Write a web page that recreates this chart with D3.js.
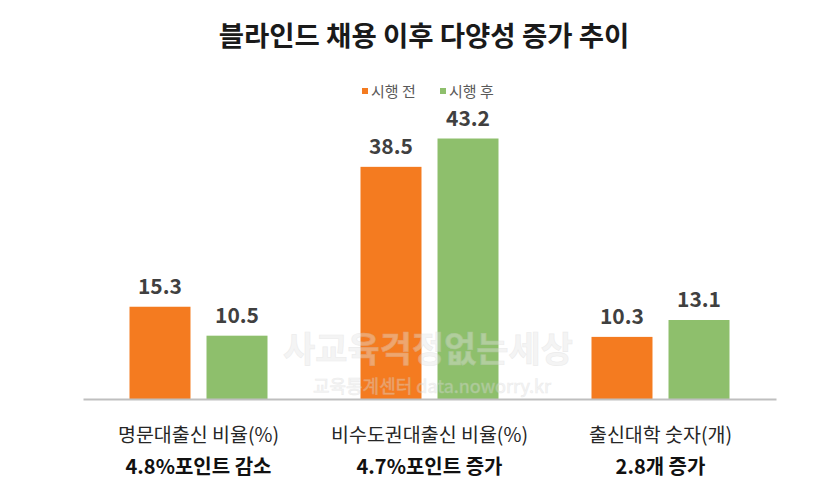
<!DOCTYPE html>
<html>
<head>
<meta charset="utf-8">
<script src="https://cdn.jsdelivr.net/npm/d3@7"></script>
<style>
  body { margin: 0; background: #fff; }
  svg { font-family: "Malgun Gothic", "Noto Sans CJK KR", sans-serif; }
</style>
</head>
<body>
<div id="chart"></div>
<script>
// chart data
const categories = ['명문대출신 비율(%)', '비수도권대출신 비율(%)', '출신대학 숫자(개)'];
const changeNotes = ['4.8%포인트 감소', '4.7%포인트 증가', '2.8개 증가'];
const seriesNames = ['시행 전', '시행 후'];
const beforeValues = [15.3, 38.5, 10.3];
const afterValues = [10.5, 43.2, 13.1];

const colors = { '시행 전': '#F47B20', '시행 후': '#8EBF6C' };

const width = 830, height = 498;
const baseY = 399;

const svg = d3.select('#chart').append('svg')
    .attr('width', width)
    .attr('height', height);

const rows = categories.map((c, i) => ({
    category: c,
    note: changeNotes[i],
    values: [
        { key: seriesNames[0], value: beforeValues[i] },
        { key: seriesNames[1], value: afterValues[i] }
    ]
}));

const x0 = d3.scaleBand()
    .domain(categories)
    .range([83, 776]);

const x1 = d3.scaleBand()
    .domain(seriesNames)
    .range([46.5, 184.5])
    .paddingInner(0.208);

const y = d3.scaleLinear()
    .domain([0, 50])
    .range([baseY, baseY - 301.5]);

// title
svg.append('text')
    .attr('x', 424)
    .attr('y', 46)
    .attr('text-anchor', 'middle')
    .attr('font-size', '27.5px')
    .attr('font-weight', 'bold')
    .attr('fill', '#1a1a1a')
    .text('블라인드 채용 이후 다양성 증가 추이');

// legend
const legendPos = [362, 440];
const legend = svg.append('g');
seriesNames.forEach((name, i) => {
    legend.append('rect')
        .attr('x', legendPos[i])
        .attr('y', 88)
        .attr('width', 6)
        .attr('height', 6)
        .attr('fill', colors[name]);
    legend.append('text')
        .attr('x', legendPos[i] + 9)
        .attr('y', 97)
        .attr('font-size', '15px')
        .attr('fill', '#595959')
        .text(name);
});

// bars
const groups = svg.selectAll('g.group')
    .data(rows)
    .join('g')
    .attr('class', 'group')
    .attr('transform', d => `translate(${x0(d.category)},0)`);

groups.selectAll('rect')
    .data(d => d.values)
    .join('rect')
    .attr('x', d => x1(d.key))
    .attr('y', d => y(d.value))
    .attr('width', x1.bandwidth())
    .attr('height', d => baseY - y(d.value))
    .attr('fill', d => colors[d.key]);

groups.selectAll('text.value')
    .data(d => d.values)
    .join('text')
    .attr('class', 'value')
    .attr('x', d => x1(d.key) + x1.bandwidth() / 2)
    .attr('y', d => y(d.value) - 13)
    .attr('text-anchor', 'middle')
    .attr('font-size', '21px')
    .attr('font-weight', 'bold')
    .attr('fill', '#404040')
    .text(d => d.value.toFixed(1));

// watermark
const wm = svg.append('g')
    .attr('opacity', 0.4)
    .attr('text-anchor', 'middle')
    .attr('fill', '#e6e6e6')
    .attr('stroke', '#cfcfcf')
    .attr('stroke-width', 0.6);
wm.append('text')
    .attr('x', 428)
    .attr('y', 362)
    .attr('font-size', '35px')
    .attr('font-weight', 'bold')
    .text('사교육걱정없는세상');
wm.append('text')
    .attr('x', 432)
    .attr('y', 393)
    .attr('font-size', '18px')
    .text('교육통계센터 data.noworry.kr');

// axis
const axis = svg.append('g')
    .attr('transform', `translate(0,${baseY})`)
    .call(d3.axisBottom(x0).tickSize(0).tickSizeOuter(0).tickPadding(0));

axis.select('.domain')
    .attr('stroke', '#bfbfbf')
    .attr('stroke-width', 2);

axis.selectAll('.tick text')
    .attr('y', 43)
    .attr('dy', 0)
    .attr('font-size', '19.5px')
    .attr('font-family', '"Malgun Gothic", "Noto Sans CJK KR", sans-serif')
    .attr('fill', '#262626');

axis.selectAll('.tick')
    .append('text')
    .attr('y', 75)
    .attr('text-anchor', 'middle')
    .attr('font-size', '20px')
    .attr('font-weight', 'bold')
    .attr('font-family', '"Malgun Gothic", "Noto Sans CJK KR", sans-serif')
    .attr('fill', '#111')
    .text((d, i) => changeNotes[i]);
</script>
</body>
</html>
